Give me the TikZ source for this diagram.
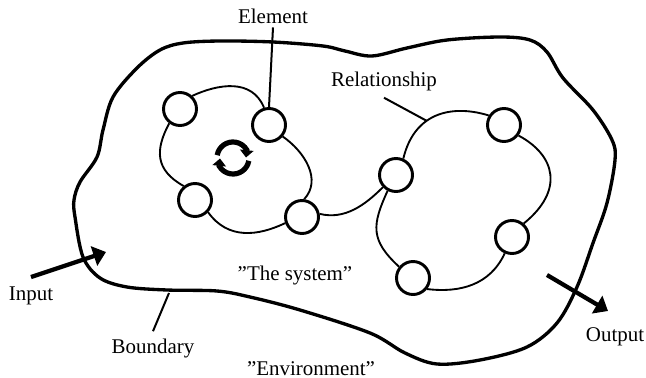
\documentclass[tikz,border=0pt]{standalone}
\usepackage{fontspec}
\setmainfont{Liberation Serif}
\usetikzlibrary{arrows.meta}

\tikzset{
    element/.style={circle, draw, fill=white, line width=2.2pt, minimum size=24.75pt, inner sep=0pt},
    lbl/.style={anchor=base, inner sep=0pt, font=\fontsize{15.7}{18}\selectfont},
    relation/.style={line width=1.4pt},
    pointer/.style={line width=1.5pt},
    boundary/.style={line width=2.5pt},
    flow/.style={line width=3.2pt, -{Triangle[length=9.5pt, width=15pt]}},
    cycle arrow/.style={line width=3.9pt, -{Triangle[length=5.5pt, width=10pt]}}
}

\begin{document}
\begin{tikzpicture}[x=0.75pt, y=-0.75pt]
    \useasboundingbox (0,0) rectangle (646,378);

    \draw[boundary] plot[smooth cycle, tension=0.55] coordinates {
        (74,200) (80,182) (97,157) (103,130) (113,97) (137,68) (160,50) (183,43)
        (220,41) (273,42) (323,46) (345,51) (372,56) (407,48) (447,40) (500,37)
        (530,40) (547,52) (563,78) (593,110) (612,140) (615,160) (607,203)
        (593,243) (577,287) (557,323) (527,347) (480,360) (437,364) (405,353)
        (370,333) (300,310) (250,297) (217,291) (167,290) (127,287) (100,278)
        (83,257) (75,217)};

    \node[element] (elemA) at (180,109) {};
    \node[element] (elemB) at (269,125) {};
    \node[element] (elemC) at (195,200) {};
    \node[element] (elemD) at (302,217) {};
    \node[element] (elemE) at (396,175) {};
    \node[element] (elemF) at (504,125) {};
    \node[element] (elemG) at (512,237) {};
    \node[element] (elemH) at (413,278) {};

    \draw[relation] (elemA.47) .. controls (218,84) and (252,78) .. (elemB.106);
    \draw[relation] (elemB.-40) .. controls (305,152) and (322,180) .. (elemD.83);
    \draw[relation] (elemD.200) .. controls (258,236) and (228,240) .. (elemC.-43);
    \draw[relation] (elemC.129) .. controls (155,170) and (155,150) .. (elemA.233);
    \draw[relation] (elemD.10) .. controls (345,220) and (365,205) .. (elemE.223);
    \draw[relation] (elemE.66) .. controls (415,110) and (455,105) .. (elemF.148);
    \draw[relation] (elemF.-36) .. controls (555,155) and (565,190) .. (elemG.49);
    \draw[relation] (elemG.246) .. controls (490,285) and (460,293) .. (elemH.-38);
    \draw[relation] (elemH.141) .. controls (370,240) and (372,225) .. (elemE.242);

    \draw[cycle arrow] (217.2,155.2) arc[start angle=190, end angle=330, radius=16] -- (246,157.5);
    \draw[cycle arrow] (248.8,160.8) arc[start angle=10, end angle=150, radius=16] -- (220,158.5);

    \node[lbl, inner ysep=2.25pt] (lblElement) at (273,24) {Element};
    \node[lbl, inner ysep=4.5pt] (lblRelationship) at (384,87) {Relationship};
    \node[lbl, inner ysep=6.75pt] (lblInput) at (31,300) {Input};
    \node[lbl, inner ysep=5.25pt] (lblBoundary) at (153,353) {Boundary};
    \node[lbl] (lblSystem) at (295,280) {”The system”};
    \node[lbl] (lblEnvironment) at (311,375) {”Environment”};
    \node[lbl] (lblOutput) at (615,341) {Output};

    \coordinate (relEnd) at (427,121);
    \coordinate (boundEnd) at (169,293);
    \coordinate (inputTip) at (106,252);
    \coordinate (outputStart) at (547,275);
    \coordinate (outputTip) at (608,311);

    \draw[pointer] (lblElement.south) -- (elemB.north);
    \draw[pointer] (lblRelationship.south) -- (relEnd);
    \draw[pointer] (lblBoundary.north) -- (boundEnd);
    \draw[flow] (lblInput.north) -- (inputTip);
    \draw[flow] (outputStart) -- (outputTip);
\end{tikzpicture}
\end{document}
